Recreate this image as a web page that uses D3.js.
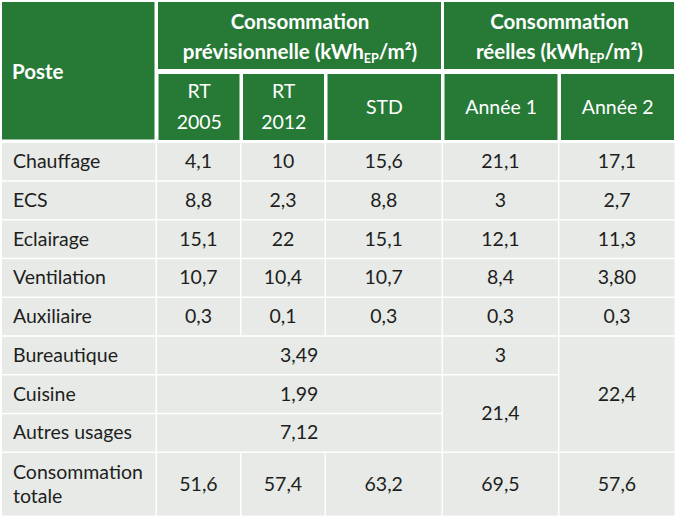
<!DOCTYPE html>
<html>
<head>
<meta charset="utf-8">
<script src="https://cdn.jsdelivr.net/npm/d3@7"></script>
<style>
  html, body { margin: 0; padding: 0; background: #ffffff; }
  svg { display: block; }
</style>
</head>
<body>
<svg id="chart" width="680" height="524"></svg>
<script>
// ---- Data ----
const postes = ["Chauffage", "ECS", "Eclairage", "Ventilation", "Auxiliaire",
                "Bureautique", "Cuisine", "Autres usages", "Consommation totale"];
const columnHeaders = ["RT 2005", "RT 2012", "STD", "Année 1", "Année 2"];
const groupHeaders = ["Consommation prévisionnelle", "Consommation réelles"];
const rt2005 = ["4,1", "8,8", "15,1", "10,7", "0,3"];
const rt2012 = ["10", "2,3", "22", "10,4", "0,1"];
const std    = ["15,6", "8,8", "15,1", "10,7", "0,3"];
const annee1 = ["21,1", "3", "12,1", "8,4", "0,3"];
const annee2 = ["17,1", "2,7", "11,3", "3,80", "0,3"];
const previsionnelAutres = ["3,49", "1,99", "7,12"];   // Bureautique, Cuisine, Autres usages (merged columns)
const annee1Autres = ["3", "21,4"];                      // Bureautique ; Cuisine + Autres usages
const annee2Autres = ["22,4"];                           // Bureautique + Cuisine + Autres usages
const totaux = ["51,6", "57,4", "63,2", "69,5", "57,6"];

// ---- Layout ----
const GREEN = "#267a36", GREY = "#e7eae6", TEXT = "#1e1e1e";
const FONT = "Lato, 'Open Sans', sans-serif";
const colEdges = [2, 157, 241.5, 326, 443, 559.5, 676];
const xCol = d3.scaleLinear().domain(d3.range(colEdges.length)).range(colEdges);
const bodyTop = 143, rowPitch = 38.75, totalH = 64;
const rowEdges = d3.range(9).map(i => bodyTop + i * rowPitch).concat([bodyTop + 8 * rowPitch + totalH]);
const yRow = d3.scaleLinear().domain(d3.range(rowEdges.length)).range(rowEdges);

const svg = d3.select("#chart");

// ---- Body cells ----
const cells = [];
for (let r = 0; r < 5; r++) {
  [rt2005, rt2012, std, annee1, annee2].forEach((arr, c) => {
    cells.push({ r, rs: 1, c: c + 1, cs: 1, text: arr[r] });
  });
}
previsionnelAutres.forEach((t, i) => cells.push({ r: 5 + i, rs: 1, c: 1, cs: 3, text: t }));
cells.push({ r: 5, rs: 1, c: 4, cs: 1, text: annee1Autres[0] });
cells.push({ r: 6, rs: 2, c: 4, cs: 1, text: annee1Autres[1] });
cells.push({ r: 5, rs: 3, c: 5, cs: 1, text: annee2Autres[0] });
totaux.forEach((t, i) => cells.push({ r: 8, rs: 1, c: i + 1, cs: 1, text: t }));
postes.forEach((p, r) => cells.push({ r, rs: 1, c: 0, cs: 1, text: p, label: true }));

const gap = 1.5;
const g = svg.append("g");
g.selectAll("rect.cell").data(cells).join("rect")
  .attr("class", "cell")
  .attr("x", d => xCol(d.c))
  .attr("y", d => yRow(d.r))
  .attr("width", d => xCol(d.c + d.cs) - xCol(d.c) - gap)
  .attr("height", d => yRow(d.r + d.rs) - yRow(d.r) - gap)
  .attr("fill", GREY);

const fs = 19.5, hfs = 20.5;
g.selectAll("text.cell").data(cells).join("text")
  .attr("class", "cell")
  .attr("font-family", FONT)
  .attr("font-size", fs)
  .attr("fill", TEXT)
  .attr("text-anchor", d => d.label ? "start" : "middle")
  .attr("x", d => d.label ? xCol(d.c) + 11 : (xCol(d.c) + xCol(d.c + d.cs) - gap) / 2)
  .attr("y", d => (yRow(d.r) + yRow(d.r + d.rs) - gap) / 2)
  .each(function(d) {
    const t = d3.select(this);
    const lines = (d.label && d.r === 8) ? ["Consommation", "totale"] : [d.text];
    const lh = 24;
    lines.forEach((l, i) => {
      t.append("tspan")
        .attr("x", t.attr("x"))
        .attr("dy", i === 0 ? (-(lines.length - 1) * lh / 2 + 6.5) : lh)
        .text(l);
    });
  });

// ---- Header ----
const hdr = svg.append("g");
// Poste
hdr.append("rect").attr("x", 2).attr("y", 2).attr("width", 152.5).attr("height", 137.5).attr("fill", GREEN);
hdr.append("text").attr("x", 12).attr("y", 79).attr("font-family", FONT).attr("font-size", hfs)
  .attr("font-weight", "bold").attr("fill", "#fff").text("Poste");

// group headers
const groups = [{ c0: 1, c1: 4 }, { c0: 4, c1: 6 }];
groups.forEach((gr, i) => {
  const x0 = xCol(gr.c0) + 1, x1 = xCol(gr.c1) - 1;
  hdr.append("rect").attr("x", x0).attr("y", 2).attr("width", x1 - x0 - 1).attr("height", 67).attr("fill", GREEN);
  const cx = (x0 + x1) / 2;
  const words = groupHeaders[i].split(" ");
  hdr.append("text").attr("x", cx).attr("y", 29).attr("text-anchor", "middle")
    .attr("font-family", FONT).attr("font-size", hfs).attr("font-weight", "bold").attr("fill", "#fff")
    .text(words[0]);
  const t2 = hdr.append("text").attr("x", cx).attr("y", 59).attr("text-anchor", "middle")
    .attr("font-family", FONT).attr("font-size", hfs).attr("font-weight", "bold").attr("fill", "#fff");
  t2.append("tspan").text(words[1] + " (kWh");
  t2.append("tspan").attr("font-size", 12.5).attr("dy", 4).text("EP");
  t2.append("tspan").attr("dy", -4).text("/m²)");
});

// column headers
columnHeaders.forEach((h, i) => {
  const c = i + 1;
  const x0 = xCol(c) + 1.5, x1 = xCol(c + 1) - 1.5;
  hdr.append("rect").attr("x", x0).attr("y", 74).attr("width", x1 - x0 - 0.5).attr("height", 66).attr("fill", GREEN);
  const lines = h.startsWith("RT") ? h.split(" ") : [h];
  const t = hdr.append("text").attr("x", (x0 + x1) / 2).attr("y", 107).attr("text-anchor", "middle")
    .attr("font-family", FONT).attr("font-size", fs).attr("fill", "#fff");
  const lh = 31;
  lines.forEach((l, k) => {
    t.append("tspan").attr("x", (x0 + x1) / 2)
      .attr("dy", k === 0 ? (-(lines.length - 1) * lh / 2 + 6.5) : lh).text(l);
  });
});
</script>
</body>
</html>
